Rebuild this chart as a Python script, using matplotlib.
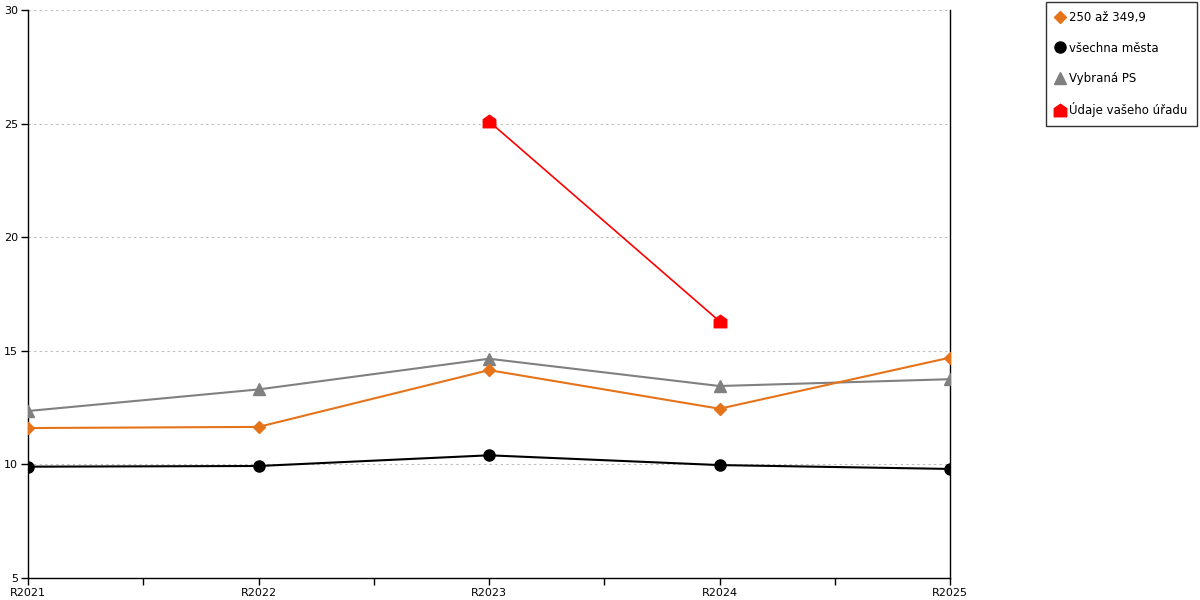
import matplotlib.pyplot as plt
from matplotlib.lines import Line2D
from matplotlib.path import Path

years = ['R2021', 'R2022', 'R2023', 'R2024', 'R2025']
orange_vals = [11.6, 11.65, 14.15, 12.45, 14.7]
black_vals = [9.9, 9.93, 10.4, 9.97, 9.8]
gray_vals = [12.35, 13.3, 14.65, 13.45, 13.75]
red_years = [2, 3]
red_vals = [25.1, 16.3]

labels = ['250 až 349,9', 'všechna města', 'Vybraná PS', 'Údaje vašeho úřadu']

# house-shaped marker for the office data
house = Path([(-1, -1), (1, -1), (1, 0.3), (0, 1), (-1, 0.3), (-1, -1)],
             [Path.MOVETO, Path.LINETO, Path.LINETO, Path.LINETO, Path.LINETO, Path.CLOSEPOLY])

fig = plt.figure(figsize=(12, 6), dpi=100)
ax = fig.add_axes([28 / 1200, 22 / 600, 922 / 1200, 568 / 600])

x = list(range(len(years)))
ax.plot(x, gray_vals, color='#808080', lw=1.5, marker='^', ms=8, zorder=3)
ax.plot(x, orange_vals, color='#E5731A', lw=1.5, marker='D', ms=6, zorder=4)
ax.plot(x, black_vals, color='black', lw=1.5, marker='o', ms=8, zorder=3)
ax.plot(red_years, red_vals, color='#FF0000', lw=1.2, marker=house, ms=9, zorder=5)

ax.set_xlim(0, 4)
ax.set_ylim(5, 30)
ax.set_yticks(range(5, 31, 5))
ax.set_xticks(x)
ax.set_xticklabels(years)
ax.set_xticks([0.5, 1.5, 2.5, 3.5], minor=True)
ax.tick_params(axis='both', which='both', labelsize=8, length=5, width=1, pad=2)
ax.grid(axis='y', color='#BBBBBB', linestyle=(0, (2, 3)), linewidth=0.8)
ax.spines['top'].set_visible(False)
for s in ['left', 'right', 'bottom']:
    ax.spines[s].set_linewidth(1)
ax.set_axisbelow(True)

handles = [
    Line2D([], [], color='#E5731A', marker='D', ls='none', ms=6),
    Line2D([], [], color='black', marker='o', ls='none', ms=8),
    Line2D([], [], color='#808080', marker='^', ls='none', ms=8),
    Line2D([], [], color='#FF0000', marker=house, ls='none', ms=9),
]
leg = fig.legend(handles, labels, loc='upper right', bbox_to_anchor=(1197 / 1200, 1 - 2 / 600),
                 fontsize=8.5, frameon=True, fancybox=False, edgecolor='black',
                 labelspacing=1.45, handlelength=0.8, handletextpad=0.35, borderpad=0.8,
                 borderaxespad=0)
leg.get_frame().set_linewidth(1)

fig.savefig('out.png', dpi=100)
